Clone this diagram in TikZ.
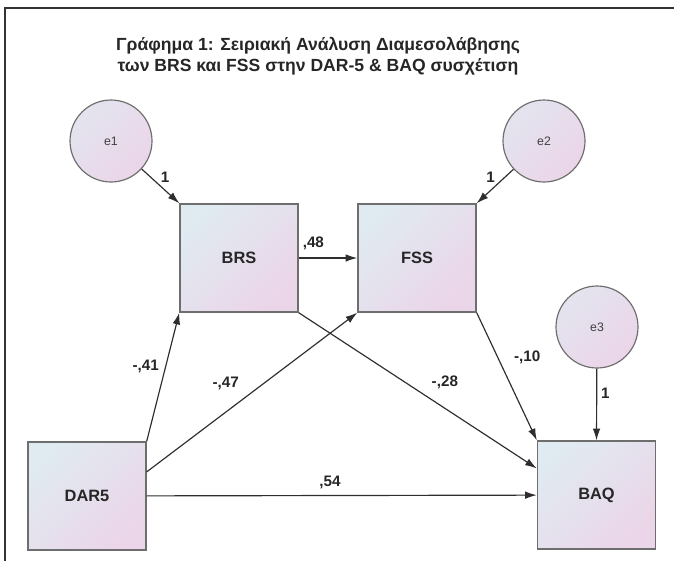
\documentclass[tikz,border=0pt]{standalone}
\usepackage{fontspec}
\setmainfont{Liberation Sans}
\usepackage{tikz}
\usetikzlibrary{arrows.meta}

\definecolor{boxtl}{HTML}{E0EAF1}
\definecolor{boxbr}{HTML}{EBD5E8}
\definecolor{boxline}{HTML}{6E6E6E}
\definecolor{arrowline}{HTML}{2E2E2E}

\begin{document}
\begin{tikzpicture}[x=0.03cm,y=-0.03cm,->,>={Latex[length=10pt,width=6.5pt]},
                    semithick,every edge/.style={draw=arrowline,line width=1pt}]
  \tikzstyle{box}=[draw=boxline,line width=1.2pt,top color=boxtl,bottom color=boxbr,
                   shading angle=45,minimum width=118*0.03cm,minimum height=108*0.03cm,
                   font=\fontsize{14}{16}\selectfont\bfseries,text=black!85]
  \tikzstyle{err}=[circle,draw=boxline,line width=1pt,top color=boxtl!70!boxbr,bottom color=boxbr,
                   shading angle=45,minimum size=82*0.03cm,inner sep=0pt,
                   font=\fontsize{10.5}{12}\selectfont,text=black!75]
  \tikzstyle{coef}=[font=\fontsize{13}{15}\selectfont\bfseries,text=black!85]

  \useasboundingbox (0,0) rectangle (674,560);
  \clip (0,0) rectangle (674,560);
  \draw[-,line width=1.8pt,black!80] (5,8) rectangle (720,620);

  \node[font=\fontsize{15}{18}\selectfont\bfseries,text=black!85,align=center] (title) at (318,56)
       {Γράφημα 1: Σειριακή Ανάλυση Διαμεσολάβησης\\των BRS και FSS στην DAR-5 \& BAQ συσχέτιση};

  \node[box] (BRS)  at (239,258)   {BRS};
  \node[box] (FSS)  at (417,258)   {FSS};
  \node[box] (DAR5) at (87,496)    {DAR5};
  \node[box] (BAQ)  at (596.5,495) {BAQ};
  \node[err] (e1)   at (111,141)   {e1};
  \node[err] (e2)   at (544,141)   {e2};
  \node[err] (e3)   at (597,327)   {e3};

  \path (e1)  edge node[coef,pos=0.45,above right=-2pt]  {1}    (BRS.north west)
        (e2)  edge node[coef,pos=0.45,above left=-2pt]   {1}    (FSS.north east)
        (e3)  edge node[coef,pos=0.35,right]             {1}    (BAQ.north)
        (BRS) edge node[coef,pos=0.25,above=3pt]         {,48}  (FSS)
        (DAR5.north east) edge node[coef,pos=0.58,left=2pt]      {-,41} (BRS.south west)
        (DAR5.22)         edge node[coef,pos=0.47,above left=2pt] {-,47} (FSS.south west)
        (BRS.south east)  edge node[coef,pos=0.53,above right=2pt] {-,28} (BAQ.156)
        (FSS.south east)  edge node[coef,pos=0.47,above right=4pt] {-,10} (BAQ.north west)
        (DAR5)            edge node[coef,pos=0.47,above=2pt]      {,54}  (BAQ);
\end{tikzpicture}
\end{document}
